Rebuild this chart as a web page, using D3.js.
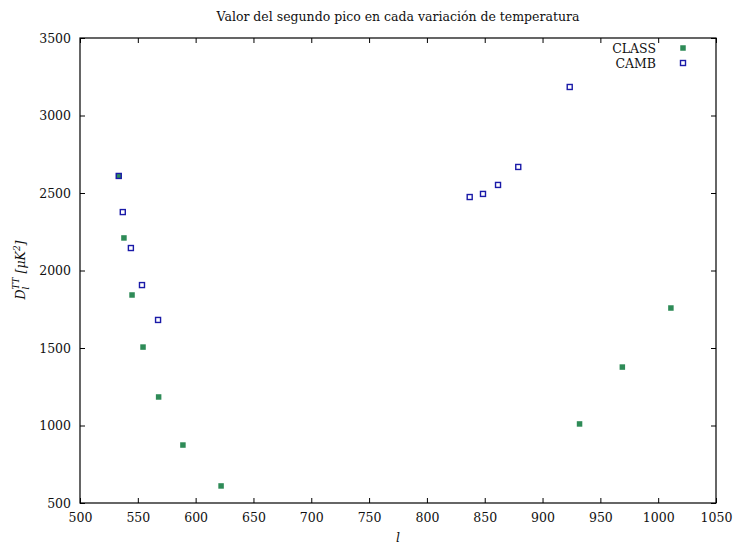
<!DOCTYPE html>
<html>
<head>
<meta charset="utf-8">
<script src="https://cdn.jsdelivr.net/npm/d3@7"></script>
<style>
  body { margin: 0; background: #fff; }
  svg { display: block; }
</style>
</head>
<body>
<svg id="chart" width="737" height="548"></svg>
<script>
// Multipole position (l) and amplitude of the second acoustic peak
const classL = [533.5, 538, 545, 554.5, 568, 589, 622, 932, 969, 1011];
const classD = [2610, 2210, 1842, 1506, 1184, 874, 610, 1010, 1377, 1758];
const cambL  = [533.5, 537, 544, 553.6, 567.5, 837, 848.5, 861.5, 879, 923.5];
const cambD  = [2610, 2377, 2145, 1906, 1681, 2474, 2494, 2552, 2668, 3184];

const xTicks = [500, 550, 600, 650, 700, 750, 800, 850, 900, 950, 1000, 1050];
const yTicks = [500, 1000, 1500, 2000, 2500, 3000, 3500];
const seriesNames = ["CLASS", "CAMB"];

const FONT = "'DejaVu Serif', 'Liberation Serif', serif";
const INK = "#111";
const svg = d3.select("#chart").attr("font-family", FONT);
const m = { left: 80, right: 716, top: 38, bottom: 503 };

const x = d3.scaleLinear().domain([500, 1050]).range([m.left, m.right]);
const y = d3.scaleLinear().domain([500, 3500]).range([m.bottom, m.top]);

const tickLen = 5;
const font = 12.5;
const fmt = d3.format("d");

function styleAxis(g) {
  g.attr("font-family", FONT).attr("font-size", font);
  g.selectAll("text").attr("fill", INK);
}

// Axes: bottom/left carry labels, top/right are mirrored ticks only
svg.append("g").attr("transform", `translate(0,${m.bottom})`)
  .call(d3.axisBottom(x).tickValues(xTicks).tickFormat(fmt).tickSizeInner(-tickLen).tickSizeOuter(0).tickPadding(10))
  .call(styleAxis);
svg.append("g").attr("transform", `translate(0,${m.top})`)
  .call(d3.axisTop(x).tickValues(xTicks).tickSizeInner(-tickLen).tickSizeOuter(0).tickFormat(""));
svg.append("g").attr("transform", `translate(${m.left},0)`)
  .call(d3.axisLeft(y).tickValues(yTicks).tickFormat(fmt).tickSizeInner(-tickLen).tickSizeOuter(0).tickPadding(9))
  .call(styleAxis);
svg.append("g").attr("transform", `translate(${m.right},0)`)
  .call(d3.axisRight(y).tickValues(yTicks).tickSizeInner(-tickLen).tickSizeOuter(0).tickFormat(""));

svg.selectAll(".domain").remove();
svg.selectAll(".tick line").attr("stroke", "#000").attr("stroke-width", 1);

// Plot frame
svg.append("rect")
  .attr("x", m.left).attr("y", m.top)
  .attr("width", m.right - m.left).attr("height", m.bottom - m.top)
  .attr("fill", "none").attr("stroke", "#000").attr("stroke-width", 1.2);

// CLASS: filled green squares
const sq = 5.5;
const green = "#2e8b57";
const blue = "#1a1aa8";
svg.append("g").selectAll("rect")
  .data(classL.map((l, i) => [l, classD[i]]))
  .join("rect")
  .attr("x", d => x(d[0]) - sq / 2).attr("y", d => y(d[1]) - sq / 2)
  .attr("width", sq).attr("height", sq)
  .attr("fill", green);

// CAMB: open blue squares
const osq = 5;
svg.append("g").selectAll("rect")
  .data(cambL.map((l, i) => [l, cambD[i]]))
  .join("rect")
  .attr("x", d => x(d[0]) - osq / 2).attr("y", d => y(d[1]) - osq / 2)
  .attr("width", osq).attr("height", osq)
  .attr("fill", "none").attr("stroke", blue).attr("stroke-width", 1.4);

// Legend
const leg = svg.append("g");
seriesNames.forEach((name, i) => {
  const ly = 48 + i * 15;
  leg.append("text").attr("x", 656).attr("y", ly + 4.5)
    .attr("text-anchor", "end").attr("font-size", font).attr("fill", INK).text(name);
  if (i === 0) {
    leg.append("rect").attr("x", 683 - sq / 2).attr("y", ly - sq / 2)
      .attr("width", sq).attr("height", sq).attr("fill", green);
  } else {
    leg.append("rect").attr("x", 683 - osq / 2).attr("y", ly - osq / 2)
      .attr("width", osq).attr("height", osq)
      .attr("fill", "none").attr("stroke", blue).attr("stroke-width", 1.4);
  }
});

// Title
svg.append("text").attr("x", 398).attr("y", 21)
  .attr("text-anchor", "middle").attr("font-size", font).attr("fill", INK)
  .text("Valor del segundo pico en cada variación de temperatura");

// X label
svg.append("text").attr("x", 398).attr("y", 542)
  .attr("text-anchor", "middle").attr("font-size", font).attr("font-style", "italic").attr("fill", INK)
  .text("l");

// Y label: D_l^{TT} [μK²]
const yl = svg.append("text")
  .attr("transform", "translate(25,270) rotate(-90)")
  .attr("text-anchor", "middle").attr("font-size", font).attr("font-style", "italic").attr("fill", INK);
yl.append("tspan").text("D");
yl.append("tspan").attr("font-size", 9).attr("dy", 4).text("l");
yl.append("tspan").attr("font-size", 9).attr("dy", -10).attr("dx", -3).text("TT");
yl.append("tspan").attr("dy", 6).text(" [μK");
yl.append("tspan").attr("font-size", 9).attr("dy", -5).text("2");
yl.append("tspan").attr("dy", 5).text("]");
</script>
</body>
</html>
